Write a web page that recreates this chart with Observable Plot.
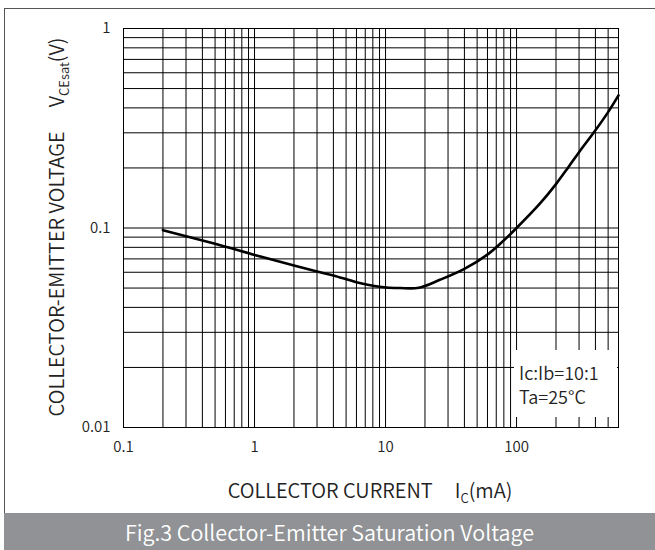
<!DOCTYPE html>
<html>
<head>
<meta charset="utf-8">
<script src="https://cdn.jsdelivr.net/npm/d3@7"></script>
<script src="https://cdn.jsdelivr.net/npm/@observablehq/plot@0.6"></script>
<style>
  html, body { margin: 0; padding: 0; background: #fff; }
  #wrap { position: relative; width: 655px; height: 550px; overflow: hidden; font-family: 'Noto Sans CJK SC', 'Noto Sans', sans-serif; }
  #border { position: absolute; left: 4px; top: 8px; width: 660px; height: 520px; border-left: 1px solid #555; border-top: 1px solid #555; box-sizing: border-box; }
  #chart { position: absolute; left: 0; top: 0; }
  #caption { position: absolute; left: 4px; top: 513px; width: 651px; height: 37px; background: #909295; color: #fff; font-size: 21.5px; font-weight: 350; line-height: 37px; text-align: center; }
</style>
</head>
<body>
<div id="wrap">
  <div id="border"></div>
  <div id="chart"></div>
  <div id="caption">Fig.3 Collector-Emitter Saturation Voltage</div>
</div>
<script>
// Data (Ic in mA, VCE(sat) in V)
const currentMA = [0.2, 0.5, 1, 2, 3, 4, 6, 9, 13, 18, 26, 40, 61, 75, 100, 150, 200, 250, 300, 400, 500, 600];
const vceSat    = [0.0975, 0.0833, 0.0733, 0.0648, 0.0605, 0.0578, 0.0535, 0.0508, 0.0500, 0.0502, 0.0550, 0.0624, 0.0742, 0.0833, 0.100, 0.132, 0.166, 0.203, 0.240, 0.309, 0.381, 0.462];

const xTicks = [0.1, 1, 10, 100];
const xTickLabels = ["0.1", "1", "10", "100"];
const yTicks = [0.01, 0.1, 1];
const yTickLabels = ["0.01", "0.1", "1"];

const xDomain = [0.1, 600];
const yDomain = [0.01, 1];

const annotationLines = ["Ic:Ib=10:1", "Ta=25°C"];

const data = currentMA.map((x, i) => ({x, y: vceSat[i]}));
const xGrid = d3.scaleLog().domain(xDomain).ticks();
const yGrid = d3.scaleLog().domain(yDomain).ticks();
const xLab = new Map(xTicks.map((t, i) => [t, xTickLabels[i]]));
const yLab = new Map(yTicks.map((t, i) => [t, yTickLabels[i]]));

const font = "'Noto Sans CJK SC', 'Noto Sans', sans-serif";

const chart = Plot.plot({
  width: 655,
  height: 513,
  marginLeft: 123,
  marginRight: 37,
  marginTop: 28,
  marginBottom: 86,
  style: {fontFamily: font, fontSize: "15px", fontWeight: 350, color: "#222", background: "transparent"},
  x: {type: "log", domain: xDomain, ticks: xTicks, tickFormat: d => xLab.get(d), tickSize: 0, tickPadding: 14, label: null},
  y: {type: "log", domain: yDomain, ticks: yTicks, tickFormat: d => yLab.get(d), tickSize: 0, tickPadding: 13, label: null},
  marks: [
    Plot.ruleX(xGrid, {stroke: "#000", strokeWidth: 1}),
    Plot.ruleY(yGrid, {stroke: "#000", strokeWidth: 1}),
    Plot.frame({stroke: "#000", strokeWidth: 1}),
    Plot.line(data, {x: "x", y: "y", curve: "catmull-rom", stroke: "#000", strokeWidth: 2.6})
  ]
});
document.getElementById("chart").appendChild(chart);

const svg = d3.select(chart);
const sx = chart.scale("x"), sy = chart.scale("y");
const fr = sx.apply(xDomain[1]), fb = sy.apply(yDomain[0]);

// annotation box
const g = svg.append("g");
g.append("rect")
  .attr("x", fr - 104).attr("y", fb - 77).attr("width", 103).attr("height", 67)
  .style("fill", "#ffffff").style("stroke", "none");
const t = g.append("text")
  .attr("font-family", font).attr("font-size", 18).attr("font-weight", 350)
  .attr("fill", "#222").attr("text-anchor", "start");
annotationLines.forEach((s, i) => {
  t.append("tspan").attr("x", fr - 99).attr("y", fb - 47 + i * 24).text(s);
});

// x axis label
const xl = svg.append("text")
  .attr("font-family", font).attr("font-size", 20).attr("font-weight", 350).attr("fill", "#222")
  .attr("text-anchor", "middle")
  .attr("x", 370).attr("y", 498);
xl.append("tspan").text("COLLECTOR CURRENT");
xl.append("tspan").attr("dx", 22).text("I");
xl.append("tspan").attr("font-size", 13).attr("dy", 5).text("C");
xl.append("tspan").attr("dy", -5).text("(mA)");

// y axis label
const yl = svg.append("text")
  .attr("font-family", font).attr("font-size", 20).attr("font-weight", 350).attr("fill", "#222")
  .attr("text-anchor", "middle")
  .attr("transform", "translate(64,227) rotate(-90)");
yl.append("tspan").text("COLLECTOR-EMITTER VOLTAGE");
yl.append("tspan").attr("dx", 24).text("V");
yl.append("tspan").attr("font-size", 13).attr("dy", 5).text("CEsat");
yl.append("tspan").attr("dy", -5).text("(V)");
</script>
</body>
</html>
